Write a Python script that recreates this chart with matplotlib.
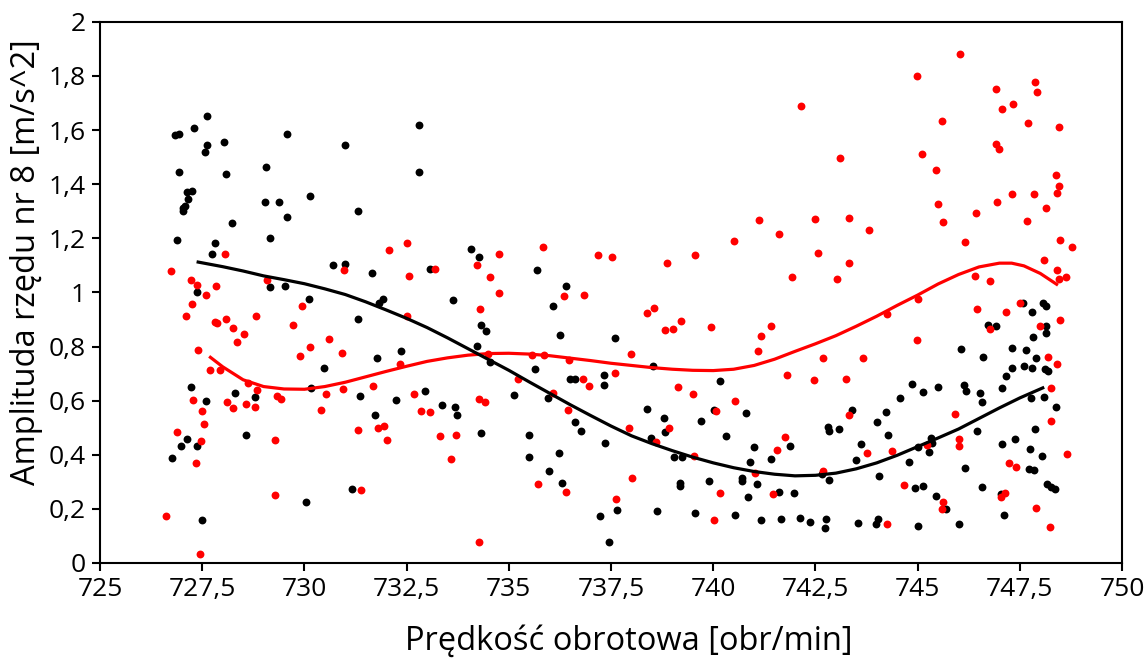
import matplotlib
matplotlib.use("Agg")
import matplotlib.pyplot as plt
from matplotlib.ticker import FuncFormatter, MultipleLocator

plt.rcParams['font.family'] = ['Open Sans', 'DejaVu Sans']

# measured points (speed, amplitude)
black_pts = [
    (727.61, 1.652), (727.29, 1.609), (726.84, 1.58), (726.93, 1.585), (727.62, 1.545),
    (727.56, 1.519), (728.03, 1.555), (729.58, 1.587), (730.99, 1.546), (726.92, 1.445),
    (728.08, 1.438), (729.05, 1.463), (727.12, 1.372), (727.25, 1.374), (727.15, 1.345),
    (727.07, 1.32), (727.02, 1.31), (727.03, 1.30), (729.03, 1.335), (729.37, 1.333),
    (730.13, 1.357), (729.58, 1.28), (731.31, 1.30), (728.24, 1.258), (726.88, 1.195),
    (727.80, 1.184), (727.74, 1.141), (729.16, 1.20), (730.69, 1.103), (730.99, 1.104),
    (731.66, 1.073), (727.36, 1.0), (729.15, 1.02), (729.53, 1.024), (730.11, 0.977),
    (731.83, 0.96), (731.91, 0.975), (732.79, 1.618), (732.80, 1.445), (734.07, 1.16),
    (734.26, 1.132), (733.06, 1.086), (735.69, 1.082), (736.40, 1.023), (733.63, 0.972),
    (736.09, 0.95), (731.32, 0.902), (731.77, 0.758), (730.48, 0.722), (730.15, 0.647),
    (731.37, 0.617), (731.73, 0.548), (727.23, 0.651), (727.60, 0.599), (728.31, 0.627),
    (728.78, 0.614), (727.12, 0.458), (726.99, 0.434), (727.37, 0.433), (726.75, 0.389),
    (728.57, 0.474), (731.17, 0.272), (730.04, 0.224), (727.49, 0.16), (734.32, 0.879),
    (734.43, 0.858), (734.21, 0.803), (734.55, 0.743), (736.26, 0.842), (737.59, 0.832),
    (732.35, 0.784), (735.65, 0.717), (736.50, 0.68), (736.63, 0.681), (737.32, 0.696),
    (737.32, 0.659), (732.96, 0.637), (732.23, 0.601), (733.36, 0.582), (733.69, 0.578),
    (733.72, 0.546), (735.13, 0.62), (735.96, 0.609), (736.61, 0.52), (736.76, 0.489),
    (734.32, 0.482), (735.49, 0.473), (735.49, 0.393), (736.23, 0.405), (735.97, 0.34),
    (736.30, 0.296), (737.36, 0.442), (737.23, 0.174), (737.64, 0.196), (737.46, 0.078),
    (738.52, 0.729), (740.17, 0.673), (738.39, 0.569), (738.80, 0.535), (738.82, 0.483),
    (740.02, 0.564), (739.71, 0.526), (740.80, 0.556), (740.30, 0.471), (738.48, 0.463),
    (739.03, 0.391), (739.23, 0.391), (740.99, 0.428), (740.90, 0.373), (741.42, 0.386),
    (741.87, 0.433), (742.81, 0.503), (742.84, 0.488), (743.08, 0.494), (740.70, 0.313),
    (740.70, 0.303), (741.06, 0.292), (739.90, 0.304), (739.19, 0.297), (739.18, 0.285),
    (742.82, 0.306), (742.66, 0.328), (741.60, 0.262), (741.98, 0.258), (740.86, 0.244),
    (738.63, 0.191), (739.56, 0.185), (740.52, 0.179), (741.18, 0.158), (741.66, 0.163),
    (742.13, 0.168), (742.36, 0.152), (742.76, 0.164), (742.73, 0.129), (747.58, 0.962),
    (748.07, 0.96), (748.13, 0.95), (747.80, 0.927), (746.71, 0.879), (746.91, 0.876),
    (748.15, 0.877), (748.14, 0.849), (747.82, 0.834), (747.30, 0.796), (747.64, 0.786),
    (746.05, 0.79), (746.60, 0.762), (747.90, 0.758), (747.60, 0.729), (747.80, 0.721),
    (747.30, 0.72), (748.11, 0.716), (748.19, 0.711), (747.16, 0.69), (747.07, 0.647),
    (744.86, 0.661), (745.13, 0.632), (745.50, 0.65), (746.13, 0.657), (746.18, 0.636),
    (746.53, 0.627), (746.58, 0.595), (747.78, 0.611), (748.09, 0.613), (748.38, 0.578),
    (744.58, 0.61), (743.40, 0.567), (744.23, 0.558), (744.01, 0.522), (744.27, 0.473),
    (743.61, 0.439), (743.49, 0.381), (745.32, 0.463), (745.34, 0.443), (745.28, 0.411),
    (745.00, 0.43), (746.46, 0.488), (747.88, 0.494), (747.38, 0.457), (747.06, 0.44),
    (747.75, 0.423), (748.05, 0.397), (744.79, 0.373), (746.15, 0.351), (747.72, 0.346),
    (747.84, 0.345), (744.05, 0.32), (744.94, 0.278), (745.13, 0.286), (746.57, 0.281),
    (748.17, 0.291), (748.27, 0.281), (748.36, 0.272), (747.03, 0.255), (745.46, 0.246),
    (745.69, 0.198), (747.12, 0.177), (743.55, 0.148), (743.98, 0.145), (744.04, 0.164),
    (745.02, 0.137), (746.00, 0.145),
]

red_pts = [
    (728.05, 1.142), (726.73, 1.08), (730.96, 1.084), (732.06, 1.156), (727.23, 1.047),
    (727.38, 1.027), (727.84, 1.022), (727.58, 0.99), (727.24, 0.956), (729.09, 1.045),
    (729.93, 0.951), (732.51, 1.182), (732.55, 1.061), (733.19, 1.086), (734.21, 1.10),
    (734.75, 1.142), (734.55, 1.058), (734.75, 0.998), (735.83, 1.168), (737.18, 1.137),
    (737.52, 1.13), (736.34, 0.988), (736.83, 0.99), (734.30, 0.938), (742.14, 1.687),
    (743.09, 1.495), (741.12, 1.269), (742.49, 1.273), (743.32, 1.275), (741.61, 1.215),
    (740.50, 1.19), (739.55, 1.138), (738.86, 1.11), (742.57, 1.147), (743.32, 1.109),
    (741.93, 1.055), (743.03, 1.051), (738.56, 0.941), (746.03, 1.882), (744.99, 1.799),
    (746.92, 1.751), (747.86, 1.777), (747.91, 1.74), (747.06, 1.678), (747.34, 1.696),
    (745.59, 1.634), (747.71, 1.625), (748.46, 1.612), (745.11, 1.512), (746.91, 1.549),
    (746.99, 1.529), (745.45, 1.453), (748.39, 1.432), (748.46, 1.394), (748.41, 1.369),
    (747.32, 1.363), (747.84, 1.365), (746.93, 1.335), (745.50, 1.325), (748.14, 1.31),
    (745.62, 1.26), (746.42, 1.293), (747.68, 1.264), (743.82, 1.23), (746.16, 1.186),
    (748.48, 1.193), (748.78, 1.169), (748.08, 1.121), (748.42, 1.082), (748.45, 1.05),
    (748.63, 1.057), (746.40, 1.06), (746.78, 1.043), (745.02, 0.976), (727.11, 0.913),
    (727.80, 0.891), (727.85, 0.888), (728.09, 0.90), (728.26, 0.869), (728.53, 0.845),
    (728.35, 0.818), (728.81, 0.914), (727.40, 0.787), (727.69, 0.713), (727.93, 0.712),
    (728.62, 0.664), (728.85, 0.64), (727.27, 0.604), (727.50, 0.562), (727.54, 0.515),
    (726.89, 0.483), (727.47, 0.452), (727.34, 0.369), (728.11, 0.595), (728.26, 0.574),
    (728.56, 0.588), (728.78, 0.577), (729.34, 0.616), (729.42, 0.605), (729.27, 0.455),
    (729.29, 0.253), (726.62, 0.175), (727.45, 0.033), (729.71, 0.879), (729.89, 0.765),
    (730.13, 0.799), (730.61, 0.827), (730.93, 0.775), (730.53, 0.626), (730.40, 0.564),
    (730.94, 0.643), (731.67, 0.655), (731.30, 0.49), (731.81, 0.499), (731.95, 0.506),
    (732.01, 0.456), (731.38, 0.271), (732.52, 0.912), (732.34, 0.736), (734.49, 0.773),
    (735.57, 0.77), (735.86, 0.768), (736.47, 0.749), (735.23, 0.68), (736.08, 0.63),
    (736.82, 0.68), (736.96, 0.655), (737.59, 0.701), (732.68, 0.625), (732.84, 0.561),
    (733.06, 0.557), (734.26, 0.605), (734.41, 0.595), (736.44, 0.566), (733.32, 0.47),
    (733.71, 0.472), (733.59, 0.386), (735.72, 0.291), (736.41, 0.262), (737.62, 0.237),
    (734.28, 0.077), (738.39, 0.924), (738.82, 0.861), (739.01, 0.865), (739.21, 0.896),
    (739.95, 0.872), (741.16, 0.84), (741.41, 0.877), (741.10, 0.785), (737.99, 0.774),
    (741.81, 0.696), (742.69, 0.757), (742.47, 0.677), (743.25, 0.679), (739.14, 0.652),
    (739.50, 0.625), (740.52, 0.60), (740.07, 0.563), (737.94, 0.499), (738.92, 0.50),
    (738.59, 0.447), (741.76, 0.467), (741.55, 0.418), (739.54, 0.394), (738.02, 0.315),
    (741.01, 0.331), (742.69, 0.339), (740.17, 0.258), (741.46, 0.254), (740.02, 0.16),
    (743.32, 0.547), (744.24, 0.919), (746.44, 0.938), (747.16, 0.927), (747.50, 0.962),
    (747.99, 0.877), (746.78, 0.866), (748.49, 0.898), (744.99, 0.824), (743.66, 0.759),
    (748.20, 0.76), (748.41, 0.735), (748.26, 0.647), (745.91, 0.55), (748.25, 0.526),
    (746.02, 0.457), (746.02, 0.433), (745.22, 0.435), (743.77, 0.406), (744.38, 0.415),
    (748.65, 0.402), (747.23, 0.369), (747.40, 0.354), (744.66, 0.288), (747.04, 0.244),
    (747.14, 0.258), (745.61, 0.224), (745.59, 0.198), (744.24, 0.144), (747.89, 0.203),
    (748.24, 0.132),
]

# trend lines
black_fit_x = [727.4, 728, 728.5, 729, 729.5, 730, 730.5, 731, 731.5, 732, 732.5, 733,
               733.5, 734, 734.5, 735, 735.5, 736, 736.5, 737, 737.5, 738, 738.5, 739,
               739.5, 740, 740.5, 741, 741.5, 742, 742.5, 743, 743.5, 744, 744.5, 745,
               745.5, 746, 746.5, 747, 747.5, 748.06]
black_fit_y = [1.112, 1.095, 1.079, 1.061, 1.047, 1.032, 1.013, 0.992, 0.965, 0.935,
               0.904, 0.87, 0.832, 0.792, 0.752, 0.712, 0.669, 0.627, 0.585, 0.545,
               0.506, 0.47, 0.441, 0.415, 0.391, 0.37, 0.352, 0.338, 0.328, 0.322,
               0.324, 0.332, 0.348, 0.37, 0.398, 0.43, 0.462, 0.495, 0.534, 0.573,
               0.61, 0.647]
red_fit_x = [727.7, 728, 728.5, 729, 729.5, 730, 730.5, 731, 731.5, 732, 732.5, 733,
             733.5, 734, 734.5, 735, 735.5, 736, 736.5, 737, 737.5, 738, 738.5, 739,
             739.5, 740, 740.5, 741, 741.5, 742, 742.5, 743, 743.5, 744, 744.5, 745,
             745.5, 746, 746.5, 747, 747.3, 747.6, 748, 748.4]
red_fit_y = [0.76, 0.725, 0.677, 0.652, 0.643, 0.642, 0.652, 0.668, 0.688, 0.708,
             0.727, 0.745, 0.758, 0.768, 0.774, 0.775, 0.772, 0.766, 0.757, 0.748,
             0.738, 0.73, 0.722, 0.716, 0.712, 0.711, 0.716, 0.73, 0.753, 0.782,
             0.81, 0.84, 0.875, 0.912, 0.952, 0.99, 1.031, 1.066, 1.094, 1.108,
             1.108, 1.098, 1.07, 1.03]

bx, by = zip(*black_pts)
rx, ry = zip(*red_pts)

fig = plt.figure(figsize=(11.46, 6.6), dpi=100)
ax = fig.add_axes([0.0873, 0.147, 0.8918, 0.82])

ax.scatter(bx, by, s=32, color='black', linewidths=0, zorder=2)
ax.scatter(rx, ry, s=32, color='#ff0000', linewidths=0, zorder=3)
ax.plot(red_fit_x, red_fit_y, color='#ff0000', lw=2.3, zorder=4)
ax.plot(black_fit_x, black_fit_y, color='black', lw=2.3, zorder=5)

ax.set_xlim(725, 750)
ax.set_ylim(0, 2)
ax.xaxis.set_major_locator(MultipleLocator(2.5))
ax.yaxis.set_major_locator(MultipleLocator(0.2))
comma = FuncFormatter(lambda v, p: f"{round(v, 2):g}".replace('.', ','))
ax.xaxis.set_major_formatter(comma)
ax.yaxis.set_major_formatter(comma)

ax.tick_params(direction='out', length=6, width=1.5, labelsize=19, pad=4)
for sp in ax.spines.values():
    sp.set_linewidth(1.5)

ax.set_xlabel('Prędkość obrotowa [obr/min]', fontsize=23.5, va='center')
ax.xaxis.set_label_coords(0.517, -0.145)
ax.set_ylabel('Amplituda rzędu nr 8 [m/s^2]', fontsize=23.5, va='center')
ax.yaxis.set_label_coords(-0.072, 0.556)

fig.savefig('out.png', dpi=100)
